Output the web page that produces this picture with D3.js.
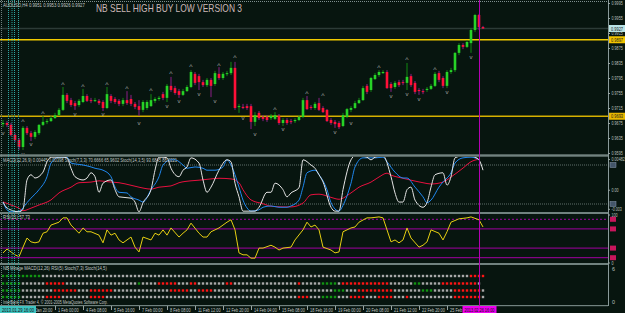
<!DOCTYPE html>
<html>
<head>
<meta charset="utf-8">
<script src="https://cdn.jsdelivr.net/npm/d3@7"></script>
<style>
  body { margin: 0; background: #07150f; }
  svg { display: block; }
  text { font-family: "Liberation Sans", Arial, sans-serif; }
</style>
</head>
<body>
<div id="chart"></div>
<script>
// AUDUSD H4 candles, bar 0 .. 120
const barOpen = [0.9672,0.9675,0.9670,0.9643,0.9630,0.9611,0.9662,0.9648,0.9638,0.9648,
  0.9670,0.9678,0.9680,0.9688,0.9696,0.9710,0.9750,0.9736,0.9728,0.9723,
  0.9731,0.9747,0.9736,0.9734,0.9734,0.9731,0.9715,0.9747,0.9739,0.9734,
  0.9726,0.9736,0.9739,0.9726,0.9720,0.9710,0.9715,0.9720,0.9734,0.9739,
  0.9752,0.9742,0.9774,0.9768,0.9760,0.9750,0.9760,0.9771,0.9806,0.9800,
  0.9784,0.9776,0.9790,0.9779,0.9806,0.9795,0.9806,0.9808,0.9822,0.9718,
  0.9718,0.9720,0.9720,0.9678,0.9702,0.9691,0.9691,0.9688,0.9686,0.9694,
  0.9675,0.9683,0.9680,0.9680,0.9683,0.9691,0.9736,0.9718,0.9715,0.9728,
  0.9715,0.9710,0.9683,0.9678,0.9675,0.9667,0.9691,0.9710,0.9715,0.9728,
  0.9736,0.9774,0.9763,0.9792,0.9803,0.9808,0.9811,0.9779,0.9771,0.9784,
  0.9784,0.9782,0.9800,0.9782,0.9763,0.9760,0.9763,0.9766,0.9774,0.9808,
  0.9795,0.9774,0.9811,0.9816,0.9862,0.9883,0.9878,0.9888,0.9923,0.9963,0.9931];
const barHigh = [0.9683,0.9680,0.9675,0.9648,0.9635,0.9667,0.9667,0.9654,0.9656,0.9672,
  0.9694,0.9686,0.9694,0.9702,0.9715,0.9771,0.9755,0.9742,0.9734,0.9739,
  0.9766,0.9752,0.9742,0.9742,0.9739,0.9736,0.9771,0.9752,0.9744,0.9739,
  0.9742,0.9760,0.9750,0.9731,0.9736,0.9736,0.9736,0.9752,0.9744,0.9747,
  0.9758,0.9779,0.9798,0.9774,0.9766,0.9766,0.9776,0.9816,0.9811,0.9806,
  0.9790,0.9795,0.9795,0.9814,0.9824,0.9811,0.9814,0.9838,0.9838,0.9726,
  0.9726,0.9726,0.9726,0.9704,0.9707,0.9696,0.9696,0.9699,0.9704,0.9699,
  0.9688,0.9688,0.9686,0.9688,0.9696,0.9742,0.9747,0.9723,0.9731,0.9742,
  0.9720,0.9712,0.9688,0.9683,0.9680,0.9702,0.9715,0.9720,0.9734,0.9742,
  0.9774,0.9779,0.9798,0.9808,0.9816,0.9816,0.9816,0.9784,0.9787,0.9790,
  0.9790,0.9835,0.9806,0.9787,0.9768,0.9766,0.9771,0.9779,0.9811,0.9814,
  0.9800,0.9816,0.9822,0.9864,0.9888,0.9888,0.9896,0.9928,0.9966,0.9966,0.9934];
const barLow = [0.9664,0.9664,0.9640,0.9624,0.9603,0.9603,0.9643,0.9627,0.9632,0.9643,
  0.9667,0.9672,0.9678,0.9686,0.9694,0.9707,0.9728,0.9718,0.9710,0.9718,
  0.9728,0.9731,0.9728,0.9731,0.9723,0.9707,0.9712,0.9728,0.9726,0.9720,
  0.9720,0.9723,0.9720,0.9712,0.9694,0.9704,0.9710,0.9718,0.9728,0.9734,
  0.9736,0.9731,0.9758,0.9750,0.9742,0.9747,0.9758,0.9768,0.9776,0.9763,
  0.9771,0.9771,0.9744,0.9774,0.9790,0.9790,0.9800,0.9803,0.9710,0.9702,
  0.9712,0.9710,0.9659,0.9667,0.9683,0.9680,0.9678,0.9683,0.9683,0.9670,
  0.9667,0.9670,0.9672,0.9675,0.9680,0.9688,0.9710,0.9710,0.9710,0.9707,
  0.9702,0.9678,0.9670,0.9662,0.9659,0.9664,0.9688,0.9704,0.9712,0.9726,
  0.9734,0.9752,0.9758,0.9790,0.9798,0.9806,0.9766,0.9758,0.9766,0.9771,
  0.9776,0.9763,0.9771,0.9752,0.9750,0.9752,0.9758,0.9763,0.9771,0.9784,
  0.9768,0.9768,0.9806,0.9811,0.9856,0.9872,0.9875,0.9862,0.9918,0.9923,0.9926];
const barClose = [0.9675,0.9670,0.9643,0.9630,0.9611,0.9662,0.9648,0.9638,0.9651,0.9670,
  0.9678,0.9680,0.9688,0.9696,0.9710,0.9750,0.9734,0.9723,0.9720,0.9734,
  0.9747,0.9734,0.9734,0.9736,0.9728,0.9715,0.9752,0.9734,0.9731,0.9726,
  0.9736,0.9728,0.9726,0.9718,0.9710,0.9731,0.9731,0.9736,0.9739,0.9742,
  0.9742,0.9774,0.9763,0.9755,0.9750,0.9760,0.9771,0.9811,0.9782,0.9784,
  0.9776,0.9790,0.9774,0.9808,0.9795,0.9806,0.9808,0.9822,0.9715,0.9720,
  0.9715,0.9715,0.9678,0.9696,0.9688,0.9686,0.9683,0.9694,0.9696,0.9675,
  0.9683,0.9675,0.9678,0.9683,0.9691,0.9736,0.9712,0.9715,0.9726,0.9710,
  0.9704,0.9680,0.9675,0.9672,0.9664,0.9696,0.9712,0.9715,0.9728,0.9736,
  0.9768,0.9758,0.9795,0.9803,0.9811,0.9811,0.9768,0.9768,0.9782,0.9776,
  0.9782,0.9798,0.9776,0.9758,0.9760,0.9758,0.9766,0.9774,0.9806,0.9790,
  0.9774,0.9811,0.9816,0.9862,0.9883,0.9878,0.9891,0.9923,0.9963,0.9931,0.9927];

// fractal style markers [bar, price]
const upMarks = [[15,0.9779],[20,0.9774],[26,0.9779],[31,0.9768],[37,0.9763],[10,0.9702],[5,0.9680],
  [68,0.9712],[76,0.9755],[80,0.9750],[42,0.9808],[47,0.9827],[54,0.9830],[58,0.9851],
  [94,0.9824],[101,0.9846],[108,0.9819]];
const downMarks = [[18,0.9699],[25,0.9699],[34,0.9675],[41,0.9720],[44,0.9734],[49,0.9752],[53,0.9734],
  [60,0.9688],[63,0.9646],[70,0.9659],[7,0.9619],[5,0.9592],[0,0.9648],[87,0.9675],[83,0.9651],
  [97,0.9747],[101,0.9752],[104,0.9739],[111,0.9758],[117,0.9851]];

const levelLines = [0.9897, 0.9693];
const lastPrice = 0.9927;
const priceTicks = [0.9995,0.9955,0.9915,0.9875,0.9835,0.9795,0.9755,0.9715,0.9675,0.9635,0.9595];

// sub window 1: stochastics (0..100) and MACD main
const stochFast = [[0,23],[1,14],[4,8],[5,12],[6,57],[7,65],[8,60],[10,69],[11,85],[12,92],[13,92],[15,92],[16,91],[17,75],[18,62],[20,57],[21,60],[22,68],[23,62],[24,38],[25,52],[27,57],[28,42],[29,31],[32,29],[33,23],[34,8],[35,22],[37,42],[38,72],[39,92],[40,92],[41,91],[42,75],[44,62],[45,72],[46,77],[47,91],[49,83],[50,57],[51,38],[52,46],[54,72],[56,88],[57,85],[58,52],[59,31],[60,9],[63,9],[64,15],[66,38],[67,38],[68,52],[70,42],[71,31],[72,37],[74,45],[75,88],[77,80],[78,75],[79,65],[80,54],[82,15],[83,9],[84,9],[85,42],[87,88],[88,94],[89,94],[91,92],[92,88],[93,92],[95,94],[97,62],[98,37],[99,23],[100,23],[101,42],[102,46],[103,26],[105,15],[106,22],[107,46],[108,65],[110,68],[111,49],[112,62],[113,91],[115,94],[117,94],[118,92],[119,88],[120,72]];
const stochSlow = [[0,23],[1,11],[2,8],[4,9],[6,22],[7,29],[9,42],[11,62],[12,83],[14,92],[16,92],[17,83],[20,80],[22,77],[23,75],[25,72],[27,62],[28,46],[29,38],[31,37],[32,31],[34,26],[35,23],[37,42],[39,62],[40,80],[42,88],[43,88],[45,80],[46,75],[48,77],[50,75],[51,72],[53,72],[55,77],[56,88],[57,80],[59,46],[60,26],[61,14],[62,9],[64,11],[65,15],[67,17],[69,15],[71,15],[72,17],[74,26],[75,46],[76,68],[78,72],[79,65],[81,42],[82,22],[84,9],[85,18],[87,52],[88,77],[90,91],[92,91],[93,91],[95,92],[96,85],[98,69],[100,60],[101,60],[103,46],[105,31],[106,22],[107,26],[109,46],[110,54],[112,68],[113,83],[115,91],[117,92],[118,91],[119,88]];
const macdMain = [[0,-0.0019],[2,-0.0024],[4,-0.0029],[5,-0.0033],[7,-0.0029],[9,-0.0024],[12,-0.0016],[14,-0.0005],[17,0.0004],[19,0.0011],[22,0.0012],[24,0.0014],[27,0.0012],[29,0.0011],[32,0.0007],[34,0.0004],[37,0.0001],[39,0.0004],[42,0.0006],[44,0.0011],[47,0.0014],[49,0.0015],[52,0.0017],[54,0.0018],[57,0.0017],[59,0.0011],[60,0.0000],[62,-0.0016],[65,-0.0022],[67,-0.0026],[70,-0.0027],[72,-0.0027],[75,-0.0021],[77,-0.0008],[79,-0.0007],[82,-0.0012],[84,-0.0015],[87,-0.0005],[89,0.0004],[92,0.0012],[94,0.0020],[96,0.0026],[97,0.0023],[100,0.0018],[102,0.0015],[105,0.0011],[107,0.0009],[110,0.0012],[112,0.0020],[115,0.0034],[117,0.0044],[119,0.0048]];
const macdTicks = [0.00482, 0, -0.003];
const macdTickLabels = ["0.00482", "0.00", "-0.003"];
const stochLevels = [80, 20];

// sub window 2: RSI
const rsiLine = [[0,20],[1,28],[2,22],[3,16],[4,12],[5,32],[6,51],[7,43],[8,41],[9,43],[10,61],[11,64],[12,78],[14,84],[15,93],[16,93],[17,78],[19,61],[20,72],[21,64],[22,64],[24,57],[25,41],[26,68],[27,57],[28,61],[29,47],[30,41],[32,53],[33,32],[34,22],[35,53],[37,47],[38,61],[39,57],[40,68],[41,57],[42,72],[44,53],[45,61],[46,68],[47,82],[49,61],[50,53],[51,53],[52,64],[54,72],[55,78],[56,84],[57,89],[58,68],[59,20],[60,16],[61,16],[62,9],[63,9],[64,30],[65,30],[67,36],[68,32],[69,26],[70,30],[72,32],[73,47],[75,68],[76,84],[77,74],[78,78],[79,68],[80,32],[82,26],[83,20],[84,22],[85,64],[87,72],[88,74],[89,84],[91,93],[92,93],[94,95],[95,93],[97,43],[98,47],[99,41],[100,47],[101,72],[102,51],[104,32],[105,36],[106,43],[107,68],[109,61],[110,47],[111,64],[112,84],[114,91],[116,93],[117,95],[119,89],[120,74]];
const rsiLevels = [90, 70, 30, 10];

// sub window 3: signal rows, g = up, r = down, . = neutral
const rowMacd  = "gggggggggg" + ".".repeat(107) + "rrrr";
const rowRsi   = "ggggg......rrrrr..................g....rrrrr...rr.......rr................r.....gggg.rrrrrrrrrrrr......gg.....rrrrrrrrr.";
const rowStoch1= "ggggg........rrrrrr...rrrrrr..............rrrrr..rrrr..............................ggg...rrrrrrrrr.......ggg.....rrrrrrr.";
const rowStoch2= "ggggg......rrrr.......rrrr................................................rrr...gggg...rrrr...rrrr...r...........rrrrrrr.";

const timeTickBars = [6,13,20,27,34,41,48,55,62,69,76,83,90,97,104,111];
const timeLabels = ["30 Jan 20:00","1 Feb 00:00","4 Feb 08:00","5 Feb 16:00","7 Feb 00:00","8 Feb 08:00",
  "11 Feb 12:00","12 Feb 20:00","14 Feb 04:00","15 Feb 08:00","18 Feb 16:00","19 Feb 00:00",
  "20 Feb 08:00","21 Feb 12:00","22 Feb 20:00","25 Feb 00:00"];

const W = 625, H = 313, BG = "#07150f";
const axisX = 608;
const FS = 5.4;

const svg = d3.select("#chart").append("svg").attr("width", W).attr("height", H);
svg.append("rect").attr("width", W).attr("height", H).attr("fill", BG);

const x = d3.scaleLinear().domain([0, 120]).range([3, 483]);
const yPrice = d3.scaleLinear().domain([0.9595, 0.9995]).range([153, 3]);
const yStoch = d3.scaleLinear().domain([0, 100]).range([217, 152]);
const yMacd = d3.scaleLinear().domain([-0.0035, 0.0053]).range([212, 156]);
const yRsi = d3.scaleLinear().domain([0, 100]).range([262.5, 214.5]);

// squeeze tiny texts horizontally (MT4 uses a narrow pixel font)
function squeeze(node, f) {
  const s = d3.select(node);
  const x0 = +s.attr("x") || 0;
  const y0 = +s.attr("y") || 0;
  s.attr("x", 0).attr("y", 0).attr("transform", `translate(${x0},${y0}) scale(${f},1)`);
}
function narrow(sel, f) { sel.each(function () { squeeze(this, f); }); }
function fitTo(sel, w) {
  sel.each(function () { squeeze(this, w / this.getComputedTextLength()); });
}

const defs = svg.append("defs");
function clip(id, y0, y1) {
  defs.append("clipPath").attr("id", id).append("rect")
    .attr("x", 0).attr("y", y0).attr("width", axisX).attr("height", y1 - y0);
}
clip("cMain", 2, 154);
clip("cP2", 157, 212);
clip("cP3", 214, 263);

// ---- main window
const main = svg.append("g").attr("clip-path", "url(#cMain)");

// bid line
main.append("line").attr("x1", 0).attr("x2", axisX)
  .attr("y1", yPrice(lastPrice)).attr("y2", yPrice(lastPrice))
  .attr("stroke", "#2c3b37").attr("stroke-width", 1.5);

main.selectAll(".lvl").data(levelLines).enter().append("line")
  .attr("x1", 0).attr("x2", axisX)
  .attr("y1", d => yPrice(d)).attr("y2", d => yPrice(d))
  .attr("stroke", (d, i) => i ? "#d6b000" : "#f2cc00").attr("stroke-width", 1.5);

const candles = main.selectAll(".c").data(d3.range(barOpen.length)).enter().append("g");
candles.append("line")
  .attr("x1", i => x(i)).attr("x2", i => x(i))
  .attr("y1", i => yPrice(barHigh[i])).attr("y2", i => yPrice(barLow[i]))
  .attr("stroke", i => barClose[i] >= barOpen[i] ? "#138a13" : "#8c1f86").attr("stroke-width", 1);
candles.append("rect")
  .attr("x", i => x(i) - 1.3).attr("width", 2.6)
  .attr("y", i => yPrice(Math.max(barOpen[i], barClose[i])))
  .attr("height", i => Math.max(1, Math.abs(yPrice(barOpen[i]) - yPrice(barClose[i]))))
  .attr("fill", i => barClose[i] >= barOpen[i] ? "#27d327" : "#ff1038");

main.selectAll(".up").data(upMarks).enter().append("text")
  .attr("x", d => x(d[0])).attr("y", d => yPrice(d[1]) + 3)
  .attr("text-anchor", "middle").attr("font-size", 7).attr("fill", "#a3a3a3").text("^");
main.selectAll(".dn").data(downMarks).enter().append("text")
  .attr("x", d => x(d[0])).attr("y", d => yPrice(d[1]) + 2)
  .attr("text-anchor", "middle").attr("font-size", 6).attr("fill", "#a3a3a3").text("v");

// ---- window 2
const p2 = svg.append("g").attr("clip-path", "url(#cP2)");
p2.selectAll(".sl").data(stochLevels).enter().append("line")
  .attr("x1", 0).attr("x2", axisX)
  .attr("y1", d => yStoch(d)).attr("y2", d => yStoch(d))
  .attr("stroke", "#5f6e6b").attr("stroke-dasharray", "1,1");

const stLine = d3.line().x(d => x(d[0])).y(d => yStoch(d[1])).curve(d3.curveMonotoneX);
const mdLine = d3.line().x(d => x(d[0])).y(d => yMacd(d[1])).curve(d3.curveMonotoneX);
p2.append("path").attr("d", mdLine(macdMain)).attr("fill", "none").attr("stroke", "#e8103f").attr("stroke-width", 1);
p2.append("path").attr("d", stLine(stochSlow)).attr("fill", "none").attr("stroke", "#2088f0").attr("stroke-width", 1);
p2.append("path").attr("d", stLine(stochFast)).attr("fill", "none").attr("stroke", "#e4e4e4").attr("stroke-width", 1);

// ---- window 3
const p3 = svg.append("g").attr("clip-path", "url(#cP3)");
p3.selectAll(".rl").data(rsiLevels).enter().append("line")
  .attr("x1", 0).attr("x2", axisX)
  .attr("y1", d => yRsi(d)).attr("y2", d => yRsi(d))
  .attr("stroke", "#a000a0").attr("stroke-dasharray", d => d === 90 ? "2,2" : null);
const rsLine = d3.line().x(d => x(d[0])).y(d => yRsi(d[1]));
p3.append("path").attr("d", rsLine(rsiLine)).attr("fill", "none").attr("stroke", "#e6cf12").attr("stroke-width", 1);

// ---- window 4 (signal squares)
const rowY = [276, 283.5, 290.5, 297];
const sqColor = { g: "#129412", r: "#ff1414", ".": "#a9a9a9" };
[rowMacd, rowRsi, rowStoch1, rowStoch2].forEach((row, k) => {
  svg.append("g").selectAll("rect").data(row.split("")).enter().append("rect")
    .attr("x", (c, i) => x(i) - 1.2).attr("y", rowY[k] - 1.2)
    .attr("width", 2.4).attr("height", 2.4).attr("fill", c => sqColor[c]);
});

// ---- frame, separators, vertical lines
svg.append("line").attr("x1", 0).attr("x2", axisX).attr("y1", 1.5).attr("y2", 1.5)
  .attr("stroke", "#7f8f8f").attr("stroke-dasharray", "1,1");
svg.append("line").attr("x1", 1.5).attr("x2", 1.5).attr("y1", 0).attr("y2", 306)
  .attr("stroke", "#6f7f7f").attr("stroke-dasharray", "1,1");
[[154.3, 2.4], [212, 2], [263, 2], [305, 1.2]].forEach(s => {
  svg.append("rect").attr("x", 0).attr("y", s[0]).attr("width", axisX).attr("height", s[1])
    .attr("fill", "#71827f");
});
[8.5, 12, 14.5, 18.5].forEach(vx => {
  svg.append("line").attr("x1", vx).attr("x2", vx).attr("y1", 0).attr("y2", 306)
    .attr("stroke", "#2ea6a0").attr("stroke-dasharray", "1,1");
});
svg.append("line").attr("x1", x(119) + 0.5).attr("x2", x(119) + 0.5).attr("y1", 0).attr("y2", 306)
  .attr("stroke", "#b400b4").attr("stroke-width", 1);
svg.append("line").attr("x1", axisX + 0.5).attr("x2", axisX + 0.5).attr("y1", 0).attr("y2", 306)
  .attr("stroke", "#8a9a9a");

// ---- texts
svg.append("text").attr("x", 96).attr("y", 12).attr("font-size", 11)
  .attr("textLength", 146).attr("lengthAdjust", "spacingAndGlyphs")
  .attr("fill", "#cbb8b8").text("NB SELL HIGH BUY LOW VERSION 3");
const small = (tx, ty, t, w, fill) => {
  const s = svg.append("text").attr("x", tx).attr("y", ty)
    .attr("font-size", FS).attr("fill", fill || "#c2c8c6").text(t);
  if (w) fitTo(s, w);
  return s;
};
small(3, 6.5, "AUDUSD,H4  0.9951  0.9953  0.9926  0.9927", 82);
small(3, 162, "MACD(12,26,9) 0.00445 0.00398  Stoch(7,3,3) 70.6666 65.9602  Stoch(14,3,5) 93.6845 88.0221", 174);
small(3, 219, "RSI(21) 57.73", 27);
small(3, 270, "NB Mtrage  MACD(12,26)  RSI(5)  Stoch(7,3)  Stoch(14,5)", 104);
small(3, 304, "InterBank FX Trader 4, \u00a9 2001-2005 MetaQuotes Software Corp.", 105);

// ---- price axis
const styleAxis = g => {
  g.select(".domain").remove();
  g.selectAll("line").attr("stroke", "#9aa6a4");
  g.selectAll("text").attr("fill", "#b9c0be").attr("font-size", FS)
    .attr("font-family", "Liberation Sans, Arial, sans-serif");
  narrow(g.selectAll("text"), 0.68);
};
svg.append("g").attr("transform", `translate(${axisX},0)`)
  .call(d3.axisRight(yPrice).tickValues(priceTicks).tickSize(2).tickPadding(1.5).tickFormat(d3.format(".4f")))
  .call(styleAxis);

function priceBox(v, fill) {
  const g = svg.append("g").attr("transform", `translate(${axisX + 1},${yPrice(v)})`);
  g.append("rect").attr("x", 0).attr("y", -3.5).attr("width", 16).attr("height", 7).attr("fill", fill);
  const t = g.append("text").attr("x", 2).attr("y", 2).attr("font-size", FS).attr("fill", "#1a1a1a")
    .text(d3.format(".4f")(v));
  fitTo(t, 12);
}
priceBox(lastPrice, "#b9e4e6");
levelLines.forEach((v, i) => priceBox(v, i ? "#e8b800" : "#f2c400"));

svg.append("g").attr("transform", `translate(${axisX},0)`)
  .call(d3.axisRight(yMacd).tickValues(macdTicks).tickSize(2).tickPadding(1.5)
    .tickFormat((d, i) => macdTickLabels[i]))
  .call(styleAxis);
stochLevels.forEach(v => {
  svg.append("rect").attr("x", axisX + 2).attr("y", yStoch(v) - 2.5).attr("width", 6).attr("height", 5)
    .attr("fill", "#44566a").attr("stroke", "#8b9bb0").attr("stroke-width", 0.5);
});

svg.append("g").attr("transform", `translate(${axisX},0)`)
  .call(d3.axisRight(yRsi).tickValues([100, 0]).tickSize(2).tickPadding(1.5))
  .call(styleAxis);
rsiLevels.forEach(v => {
  svg.append("rect").attr("x", axisX + 2).attr("y", yRsi(v) - 2.5).attr("width", 6).attr("height", 5)
    .attr("fill", "#c8165c");
});
small(axisX + 4, 271, "6", null, "#b9c0be");
small(axisX + 4, 304, "0", null, "#b9c0be");

// ---- time axis
const tAxis = svg.append("g");
tAxis.selectAll("line").data(timeTickBars).enter().append("line")
  .attr("x1", d => x(d) + 0.5).attr("x2", d => x(d) + 0.5).attr("y1", 306).attr("y2", 310)
  .attr("stroke", "#9aa6a4");
const tLab = tAxis.selectAll("text").data(timeTickBars).enter().append("text")
  .attr("x", d => x(d) + 3).attr("y", 311.5).attr("font-size", FS).attr("fill", "#c2c8c6")
  .text((d, i) => timeLabels[i]);
narrow(tLab, 0.72);

function timeBox(cx, w, fill, label) {
  svg.append("rect").attr("x", cx - w / 2).attr("y", 306).attr("width", w).attr("height", 7).attr("fill", fill);
  const t = svg.append("text").attr("x", cx - w / 2 + 2).attr("y", 311.5)
    .attr("font-size", FS).attr("fill", "#101010").text(label);
  fitTo(t, w - 4);
}
timeBox(18, 36, "#3fc4c0", "2013.01.29 16:00");
timeBox(x(119) + 0.5, 34, "#ee00ee", "2013.02.26 16:00");
</script>
</body>
</html>
